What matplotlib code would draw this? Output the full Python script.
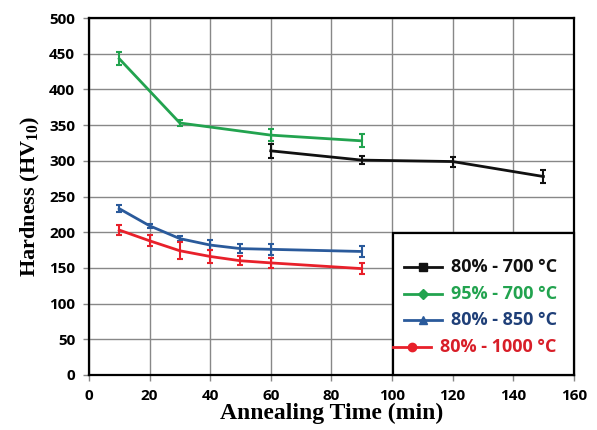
import matplotlib
matplotlib.use('Agg')
import matplotlib.pyplot as plt
from matplotlib.lines import Line2D
from matplotlib.patches import Rectangle

plt.rcParams['mathtext.fontset'] = 'custom'
plt.rcParams['mathtext.rm'] = 'Liberation Serif:bold'
plt.rcParams['mathtext.bf'] = 'Liberation Serif:bold'

# data
t_95_700 = [10, 30, 60, 90]
hv_95_700 = [443, 353, 336, 328]
err_95_700 = [9, 4, 8, 9]

t_80_700 = [60, 90, 120, 150]
hv_80_700 = [314, 301, 299, 278]
err_80_700 = [10, 6, 7, 9]

t_80_850 = [10, 20, 30, 40, 50, 60, 90]
hv_80_850 = [233, 209, 191, 182, 177, 176, 173]
err_80_850 = [5, 3, 4, 7, 6, 8, 8]

t_80_1000 = [10, 20, 30, 40, 50, 60, 90]
hv_80_1000 = [203, 188, 174, 166, 160, 157, 149]
err_80_1000 = [7, 8, 12, 9, 6, 7, 8]

series = [
    ('80% - 700 °C', t_80_700, hv_80_700, err_80_700, '#111111', '#111111', 's'),
    ('95% - 700 °C', t_95_700, hv_95_700, err_95_700, '#22a34f', '#22a34f', 'D'),
    ('80% - 850 °C', t_80_850, hv_80_850, err_80_850, '#2a5a9b', '#1f3f78', '^'),
    ('80% - 1000 °C', t_80_1000, hv_80_1000, err_80_1000, '#e8202a', '#d81e28', 'o'),
]

fig = plt.figure(figsize=(5.97, 4.30), dpi=100)
ax = fig.add_axes([0.149, 0.128, 0.812, 0.830])

for label, t, hv, err, c, tc, m in series:
    ax.errorbar(t, hv, yerr=err, color=c, lw=2, elinewidth=1.5,
                capsize=2.5, capthick=1.5, zorder=3)

ax.set_xlim(0, 160)
ax.set_ylim(0, 500)
ax.set_xticks(range(0, 161, 20))
ax.set_yticks(range(0, 501, 50))
ax.grid(True, color='#888888', lw=1)
ax.set_axisbelow(True)
for s in ax.spines.values():
    s.set_linewidth(1.6)
    s.set_color('black')
ax.tick_params(direction='out', length=4, width=1, color='#888888', pad=6)
for lb in ax.get_xticklabels() + ax.get_yticklabels():
    lb.set_fontfamily('Open Sans')
    lb.set_fontweight('bold')
    lb.set_fontsize(11)

ax.set_xlabel('Annealing Time (min)', family='Liberation Serif', weight='bold',
              fontsize=17, labelpad=0)
ax.set_ylabel(r'Hardness (HV$_{\mathbf{10}}$)', family='Liberation Serif',
              weight='bold', fontsize=16, labelpad=5)

# legend drawn by hand: labels right aligned like the Excel original
ax.add_patch(Rectangle((0.628, 0.0), 0.372, 0.398, transform=ax.transAxes,
                       facecolor='white', edgecolor='black', lw=1.6,
                       zorder=5, clip_on=False))
row_y = [0.3025, 0.2277, 0.153, 0.0784]
fig.canvas.draw()
r = fig.canvas.get_renderer()
px = 1.0 / (ax.bbox.width)
for (label, t, hv, err, c, tc, m), yy in zip(series, row_y):
    txt = ax.text(0.965, yy, label, transform=ax.transAxes, ha='right',
                  va='center', color=tc, family='Open Sans', weight='bold',
                  fontsize=13, zorder=6)
    x_start = 0.965 - txt.get_window_extent(r).width * px
    x1 = x_start - 9 * px
    x0 = x1 - 38 * px
    ax.add_line(Line2D([x0, x1], [yy, yy], transform=ax.transAxes, color=c,
                       lw=2, zorder=6, clip_on=False))
    ax.add_line(Line2D([(x0 + x1) / 2], [yy], transform=ax.transAxes, color=c,
                       marker=m, markersize=6 if m != 'D' else 5, zorder=7,
                       clip_on=False))

fig.savefig('out.png', dpi=100)
